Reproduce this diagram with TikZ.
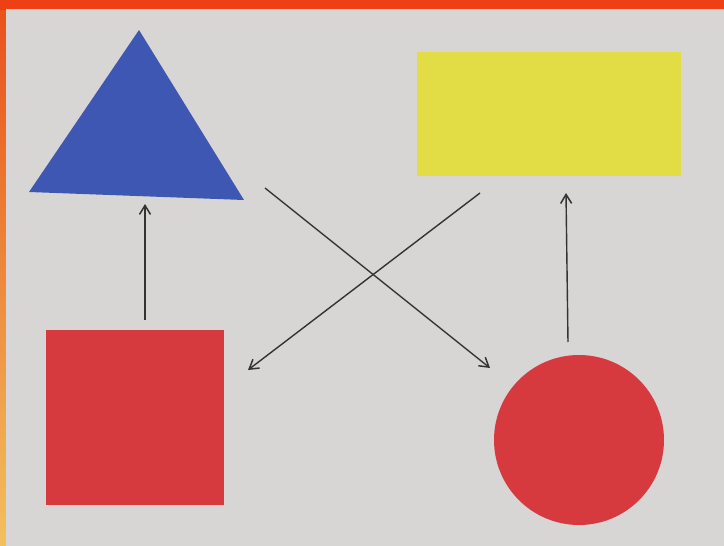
\documentclass[tikz,border=0pt]{standalone}
\usetikzlibrary{arrows.meta}
\definecolor{paper}{HTML}{D7D6D5}
\definecolor{triblue}{HTML}{3D57B2}
\definecolor{recyellow}{HTML}{E3DD45}
\definecolor{shapered}{HTML}{D63A3E}
\definecolor{fireA}{HTML}{E8501A}
\definecolor{fireB}{HTML}{F2C060}
\definecolor{pen}{HTML}{333333}
\tikzset{
  link/.style={pen, line width=1.4pt, -{Straight Barb[length=9pt,width=11pt,line width=1.5pt]}},
  filled/.style={draw=none}
}
\begin{document}
\begin{tikzpicture}[x=1pt,y=-1pt]
\useasboundingbox (0,0) rectangle (724,546);
% fiery background
\shade[top color=fireA, bottom color=fireB] (0,0) rectangle (724,546);
\fill[fireA!80!red] (0,0) rectangle (724,10);
% paper
\fill[paper] (6,9) rectangle (724,546);
% shapes
\fill[triblue] (29,192) -- (139,30) -- (244,200) -- cycle;
\node[filled, inner sep=0pt] (tri) at (139,140) {};
\fill[recyellow] (417,52) rectangle (681,176);
\node[filled, inner sep=0pt] (rect) at (549,114) {};
\fill[shapered] (46,330) rectangle (224,505);
\node[filled, inner sep=0pt] (sq) at (135,417) {};
\fill[shapered] (579,440) circle (85);
\node[filled, inner sep=0pt] (circ) at (579,440) {};
% arrow end points
\coordinate (a1s) at (145,320);
\coordinate (a1e) at (145,204);
\coordinate (a2s) at (568,342);
\coordinate (a2e) at (566,193);
\coordinate (a3s) at (265,188);
\coordinate (a3e) at (490,368);
\coordinate (a4s) at (480,193);
\coordinate (a4e) at (248,370);
\draw[link] (a1s) -- (a1e);
\draw[link] (a2s) -- (a2e);
\draw[link] (a3s) -- (a3e);
\draw[link] (a4s) -- (a4e);
\end{tikzpicture}
\end{document}
